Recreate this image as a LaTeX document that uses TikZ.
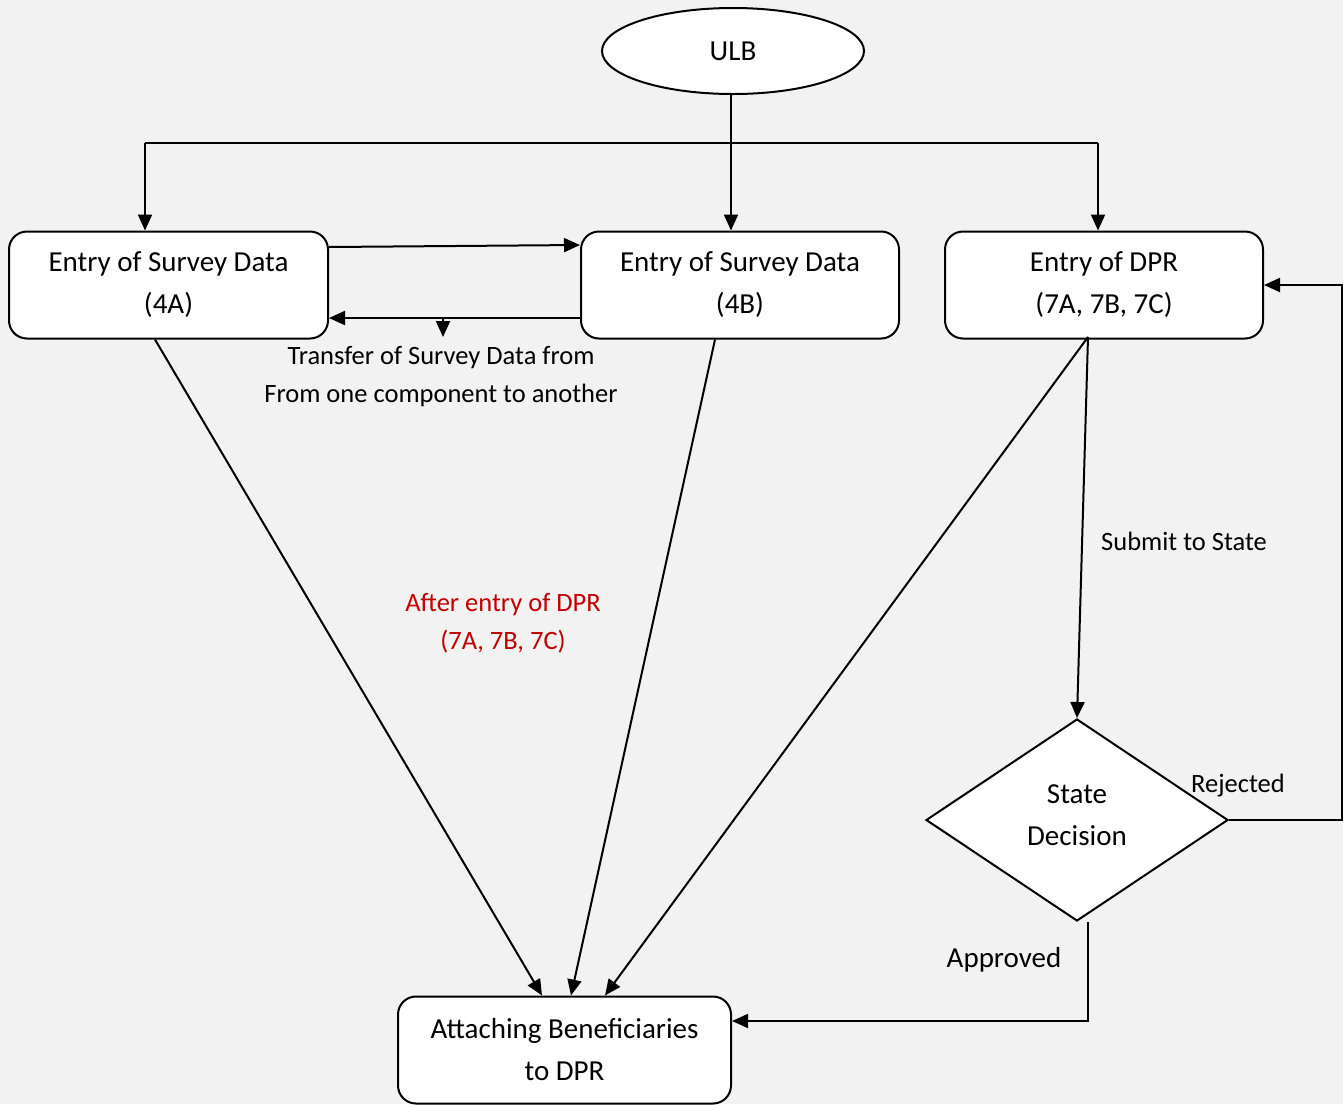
\documentclass[tikz,border=0pt]{standalone}
\usepackage{fontspec}
\setmainfont{Carlito}
\usetikzlibrary{shapes.geometric,arrows.meta,calc}
\definecolor{bg}{HTML}{F2F2F2}
\definecolor{redtxt}{HTML}{C00000}
\begin{document}
\begin{tikzpicture}[x=1pt,y=-1pt,
  boxtxt/.style={font=\fontsize{29}{42}\selectfont, align=center},
  lbl/.style={font=\fontsize{26.5}{38}\selectfont, align=center},
  stepbox/.style={draw, line width=2pt, fill=white, rounded corners=18pt, minimum height=107pt, inner sep=0pt, boxtxt},
  arr/.style={line width=2pt, -{Triangle[length=16pt,width=14pt]}},
  ln/.style={line width=2pt}]
\useasboundingbox (0,0) rectangle (1343,1104);
\fill[bg] (0,0) rectangle (1343,1104);

\node[draw, ellipse, line width=2pt, fill=white, minimum width=262pt, minimum height=86pt, inner sep=0pt, boxtxt] (u) at (733,51) {ULB};
\node[stepbox, minimum width=319pt] (a) at (168.5,285) {Entry of Survey Data\\(4A)};
\node[stepbox, minimum width=318pt] (b) at (740,285) {Entry of Survey Data\\(4B)};
\node[stepbox, minimum width=318pt] (c) at (1104,285) {Entry of DPR\\(7A, 7B, 7C)};
\node[stepbox, minimum width=333pt] (e) at (564.5,1050) {Attaching Beneficiaries\\to DPR};
\node[draw, diamond, line width=2pt, fill=white, minimum width=302pt, minimum height=202pt, inner sep=0pt,
  label={[boxtxt, yshift=5pt]center:{State\\Decision}}] (d) at (1077,820) {};

% labels
\node[lbl] (t1) at (441,377) {Transfer of Survey Data from\\From one component to another};
\node[lbl, text=redtxt] (t2) at (503,623) {After entry of DPR\\(7A, 7B, 7C)};
\node[lbl] (t3) at (1184,541) {Submit to State};
\node[lbl] (t4) at (1238,786) {Rejected};
\node[boxtxt] (t5) at (1004,960) {Approved};

% ULB connectors
\coordinate (hl) at (145,143);
\coordinate (hr) at (1098,143);
\draw[ln] (hl) -- (hr);
\draw[arr] (u.south -| 731,0) -- (b.north -| 731,0);
\draw[arr] (hl) -- (hl |- a.north);
\draw[arr] (hr) -- (hr |- c.north);

% transfer
\draw[arr] (a.east |- 0,247) -- (b.west |- 0,245);
\draw[arr] (b.west |- 0,318) -- (a.east |- 0,318);
\coordinate (tr) at (443,318);
\draw[arr] (tr) -- (443,337);

% to attaching
\draw[arr] (a.south -| 155,0) -- (e.north -| 542,0);
\draw[arr] (b.south -| 715,0) -- (e.north -| 571,0);
\coordinate (cs) at (1088,337);
\draw[arr] (cs) -- (e.north -| 605,0);
\draw[arr] (cs) -- (d.north);

% rejected
\coordinate (rj) at (1342,285);
\draw[arr] (d.east) -| (rj) -- (c.east |- rj);

% approved
\coordinate (ap) at (1088,1021);
\draw[arr] (d.south -| ap) -- (ap) -- (e.east |- ap);
\end{tikzpicture}
\end{document}
